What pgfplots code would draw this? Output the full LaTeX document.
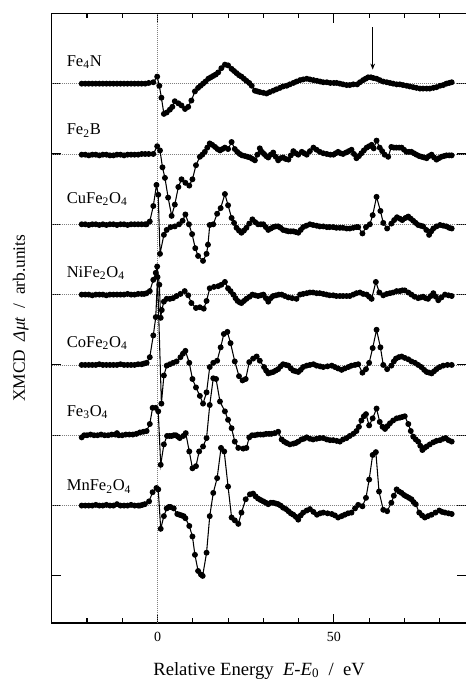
\documentclass[border=0pt]{standalone}
\usepackage{fontspec}
\setmainfont{Liberation Serif}
\usepackage{pgfplots}
\pgfplotsset{compat=1.18}
\usetikzlibrary{arrows.meta}

\pgfplotsset{xm/.style={black, line width=0.8pt, mark=*, mark size=1.8pt, mark options={solid}}}

\begin{document}
\begin{tikzpicture}
\begin{axis}[scale only axis, width=311.1pt, height=457.3pt,
  xmin=-30, xmax=87.6, ymin=-0.67, ymax=8,
  axis line style={line width=1pt},
  tick align=inside, major tick length=7pt, minor tick length=3.5pt,
  xtick={0,50}, minor xtick={-20,-10,10,20,30,40,60,70,80}, xtick pos=both,
  ytick={0,...,7}, yticklabels={}, ytick pos=both,
  tick style={black, line width=0.8pt},
  /pgf/number format/assume math mode=true,
  xticklabel style={font=\fontsize{10.5}{10.5}\selectfont, yshift=-3.5pt},
  xlabel={Relative Energy\ \ \textit{E}-\textit{E}\textsubscript{0}\ \ /\ \ eV},
  xlabel style={at={(axis description cs:0.5,-0.0853)}, anchor=base, font=\fontsize{14}{14}\selectfont},
  ylabel={XMCD\ \ \textit{Δμt}\ \ /\ \ arb.units},
  ylabel style={at={(axis description cs:-0.0745,0.5)}, anchor=center, font=\fontsize{13}{13}\selectfont},
  clip=false]

% top frame line, a little heavier
\draw[black, line width=1.2pt] (rel axis cs:0,1) -- (rel axis cs:1,1);

% baselines and edge position
\draw[densely dotted, gray, line width=0.5pt] (axis cs:-30,1) -- (axis cs:87.6,1)
  (axis cs:-30,2) -- (axis cs:87.6,2) (axis cs:-30,3) -- (axis cs:87.6,3)
  (axis cs:-30,4) -- (axis cs:87.6,4) (axis cs:-30,5) -- (axis cs:87.6,5)
  (axis cs:-30,6) -- (axis cs:87.6,6) (axis cs:-30,7) -- (axis cs:87.6,7);
\draw[densely dotted, gray, line width=0.5pt] (axis cs:0,-0.67) -- (axis cs:0,8);

% Fe4N
\addplot[xm] table[row sep=\\, y expr=\thisrow{y}+7] {x y\\
-21.5 0\\ -20.5 0\\ -19.5 0\\ -18.5 0\\ -17.5 0\\ -16.5 0\\ -15.5 0\\ -14.5 0\\ -13.5 0\\ -12.5 0\\
-11.5 0\\ -10.5 0\\ -9.5 0\\ -8.5 0\\ -7.5 0\\ -6.5 0\\ -5.5 0\\ -4.5 0\\ -3.5 0\\ -2.5 0.01\\
-1.2 0.02\\ -0.1 0.10\\ 0.5 -0.03\\ 1.1 -0.20\\ 1.8 -0.43\\ 2.6 -0.41\\ 3.5 -0.37\\ 4.2 -0.33\\ 4.9 -0.25\\ 5.9 -0.28\\
6.8 -0.31\\ 7.8 -0.36\\ 8.7 -0.33\\ 9.6 -0.24\\ 10.6 -0.11\\ 11.5 -0.06\\ 12.2 -0.03\\ 12.9 0\\ 13.6 0.03\\ 14.4 0.07\\
15.1 0.09\\ 15.8 0.11\\ 16.5 0.13\\ 17.2 0.16\\ 18.1 0.22\\ 19.1 0.27\\ 20.0 0.26\\ 21.0 0.21\\ 21.7 0.18\\ 22.4 0.15\\
23.1 0.12\\ 23.8 0.10\\ 24.5 0.07\\ 25.2 0.04\\ 26.0 0.01\\ 26.7 -0.03\\ 27.6 -0.10\\ 28.3 -0.11\\ 29.0 -0.12\\ 30.0 -0.13\\
30.9 -0.14\\ 31.8 -0.12\\ 32.8 -0.10\\ 33.7 -0.08\\ 34.7 -0.06\\ 35.6 -0.04\\ 36.6 -0.03\\ 37.5 -0.01\\ 38.5 0.01\\ 39.4 0.03\\
40.4 0.05\\ 41.3 0.06\\ 42.3 0.07\\ 43.2 0.06\\ 44.2 0.05\\ 45.2 0.04\\ 46.1 0.03\\ 47.0 0.02\\ 48.0 0.02\\ 49.0 0.01\\
50.0 0.01\\ 50.8 0.01\\ 51.7 0\\ 52.6 -0.01\\ 53.6 -0.02\\ 54.5 -0.02\\ 55.5 -0.01\\ 56.6 -0.01\\ 57.4 0.02\\ 58.3 0.05\\
59.0 0.07\\ 59.7 0.09\\ 60.5 0.09\\ 61.2 0.08\\ 62.1 0.07\\ 63.0 0.05\\ 64.0 0.03\\ 65.0 0.02\\ 65.9 0.01\\ 66.8 0\\
67.8 -0.01\\ 68.7 -0.01\\ 69.6 -0.02\\ 70.6 -0.03\\ 71.5 -0.04\\ 72.5 -0.05\\ 73.4 -0.06\\ 74.4 -0.07\\ 75.3 -0.07\\ 76.3 -0.07\\
77.2 -0.07\\ 78.2 -0.06\\ 79.1 -0.05\\ 80.1 -0.03\\ 81.0 -0.02\\ 81.9 0\\ 82.7 0.01\\ 83.4 0.02\\
};

% Fe2B
\addplot[xm] table[row sep=\\, y expr=\thisrow{y}+6] {x y\\
-21.5 -0.01\\ -20.5 -0.01\\ -19.5 -0.02\\ -18.5 -0.01\\ -17.5 -0.01\\ -16.5 -0.02\\ -15.5 -0.01\\ -14.5 -0.01\\ -13.5 -0.02\\ -12.5 -0.02\\
-11.5 -0.01\\ -10.5 -0.01\\ -9.5 -0.02\\ -8.5 -0.01\\ -7.5 -0.01\\ -6.5 -0.01\\ -5.5 -0.01\\ -4.5 0\\ -3.5 0\\ -2.5 0\\
-1.2 0\\ -0.1 0.11\\ 0.7 0.05\\ 1.4 -0.19\\ 2.1 -0.34\\ 3.0 -0.62\\ 4.0 -0.88\\ 4.9 -0.72\\ 5.9 -0.47\\ 6.8 -0.36\\
7.9 -0.41\\ 9.0 -0.45\\ 9.9 -0.36\\ 10.9 -0.16\\ 12.0 -0.04\\ 12.7 -0.01\\ 13.4 0.03\\ 14.1 0.09\\ 14.8 0.15\\ 15.5 0.13\\
16.3 0.10\\ 17.0 0.07\\ 17.7 0.05\\ 18.4 0.07\\ 19.1 0.09\\ 20.0 0.07\\ 21.0 0.17\\ 21.9 0.07\\ 22.6 0.03\\ 23.3 0\\
24.0 -0.02\\ 24.8 -0.03\\ 25.5 -0.04\\ 26.2 -0.05\\ 26.9 -0.07\\ 27.6 -0.09\\ 28.3 -0.01\\ 29.0 0.08\\ 29.6 0.03\\ 30.2 0\\
30.8 -0.03\\ 31.4 -0.05\\ 32.1 -0.01\\ 32.8 0.02\\ 33.5 -0.04\\ 34.2 -0.09\\ 34.9 -0.06\\ 35.6 -0.05\\ 36.3 -0.07\\ 37.1 -0.08\\
37.8 -0.02\\ 38.5 0.04\\ 39.2 0.01\\ 39.9 -0.01\\ 40.9 0.03\\ 41.6 0.01\\ 42.3 -0.01\\ 43.2 0.04\\ 44.2 0.09\\ 45.1 0.06\\
46.0 0.03\\ 47.0 0.01\\ 48.0 0\\ 49.0 -0.01\\ 49.9 -0.01\\ 50.5 0.01\\ 51.2 0.03\\ 51.9 0.01\\ 52.6 0\\ 53.4 0.02\\
54.2 0.04\\ 55.0 0.06\\ 55.7 0\\ 56.4 -0.06\\ 57.1 -0.03\\ 57.8 0.01\\ 58.5 0.05\\ 59.3 0.09\\ 60.0 0.11\\ 60.7 0.13\\
61.3 0.08\\ 62.1 0.19\\ 63.0 0.09\\ 63.7 0.04\\ 64.4 -0.01\\ 65.4 -0.04\\ 66.3 0.10\\ 67.0 0.09\\ 67.7 0.09\\ 68.5 0.09\\
69.2 0.09\\ 69.9 0.06\\ 70.6 0.03\\ 71.3 0.03\\ 72.0 0.03\\ 72.7 0.01\\ 73.4 -0.01\\ 74.2 -0.03\\ 74.9 -0.04\\ 75.6 -0.05\\
76.3 -0.06\\ 77.0 -0.03\\ 77.7 -0.01\\ 78.4 -0.05\\ 79.1 -0.08\\ 79.8 -0.06\\ 80.5 -0.04\\ 81.2 -0.03\\ 81.9 -0.02\\ 82.7 -0.02\\
83.4 -0.02\\
};

% CuFe2O4
\addplot[xm] table[row sep=\\, y expr=\thisrow{y}+5] {x y\\
-21.5 0\\ -20.5 0\\ -19.5 -0.01\\ -18.5 0\\ -17.5 0\\ -16.5 -0.01\\ -15.5 0\\ -14.5 -0.01\\ -13.5 0\\ -12.5 0\\
-11.5 -0.01\\ -10.5 0\\ -9.5 0\\ -8.5 -0.01\\ -7.5 0\\ -6.5 0\\ -5.5 0\\ -4.5 0\\ -3.5 0\\ -3.1 0\\
-2.2 0.04\\ -1.2 0.26\\ -0.3 0.56\\ 0.2 0.42\\ 0.7 -0.42\\ 1.8 -0.15\\ 2.6 -0.08\\ 3.7 -0.04\\ 4.9 -0.03\\ 6.1 0\\
7.1 0.05\\ 7.9 0.14\\ 8.9 0\\ 9.8 -0.14\\ 10.7 -0.34\\ 11.5 -0.45\\ 12.9 -0.52\\ 13.9 -0.42\\ 14.3 -0.29\\ 14.8 -0.01\\
15.8 0\\ 16.9 0.15\\ 17.9 0.23\\ 19.1 0.43\\ 20.0 0.27\\ 21.0 0.09\\ 21.7 0.02\\ 22.4 -0.05\\ 23.1 -0.09\\ 23.8 -0.12\\
24.5 -0.09\\ 25.2 -0.05\\ 26.0 0.01\\ 26.9 0.07\\ 27.7 0.03\\ 28.5 0\\ 29.3 0\\ 30.0 0\\ 30.7 -0.04\\ 31.4 -0.08\\
32.1 -0.06\\ 32.8 -0.04\\ 33.5 -0.03\\ 34.2 -0.03\\ 34.9 -0.05\\ 35.6 -0.08\\ 36.4 -0.09\\ 37.1 -0.10\\ 37.8 -0.10\\ 38.5 -0.10\\
39.2 -0.11\\ 39.9 -0.12\\ 40.6 -0.08\\ 41.3 -0.04\\ 42.2 -0.02\\ 43.2 0\\ 44.1 -0.01\\ 45.1 -0.02\\ 46.0 -0.03\\ 47.0 -0.03\\
48.0 -0.04\\ 48.8 -0.04\\ 49.8 -0.04\\ 50.7 -0.05\\ 51.7 -0.05\\ 52.6 -0.05\\ 53.6 -0.06\\ 54.5 -0.06\\ 55.5 -0.05\\ 56.4 -0.04\\
56.9 -0.04\\ 58.1 -0.13\\ 59.1 -0.04\\ 60.2 0\\ 61.0 0.13\\ 62.1 0.39\\ 63.2 0.19\\ 64.0 0.02\\ 65.1 -0.06\\ 66.3 0.01\\
67.1 0.06\\ 67.9 0.10\\ 68.7 0.08\\ 69.4 0.06\\ 70.3 0.09\\ 71.1 0.11\\ 71.8 0.08\\ 72.5 0.05\\ 73.2 0.02\\ 73.9 -0.01\\
74.6 -0.02\\ 75.3 -0.03\\ 76.2 -0.08\\ 77.0 -0.15\\ 77.6 -0.10\\ 78.2 -0.06\\ 79.1 -0.03\\ 80.1 -0.01\\ 81.0 -0.02\\ 81.9 -0.03\\
82.7 -0.05\\ 83.4 -0.06\\
};

% NiFe2O4
\addplot[xm] table[row sep=\\, y expr=\thisrow{y}+4] {x y\\
-21.5 0\\ -20.5 0\\ -19.5 0\\ -18.5 -0.01\\ -17.5 0\\ -16.5 0\\ -15.5 0\\ -14.5 -0.01\\ -13.5 0\\ -12.5 0\\
-11.5 0\\ -10.5 0\\ -9.5 0\\ -8.5 0.01\\ -7.5 0\\ -6.5 0\\ -5.5 0.01\\ -4.5 0.01\\ -3.8 0.01\\ -3.1 0.02\\
-2.2 0.05\\ -1.2 0.21\\ -0.5 0.31\\ -0.1 0.40\\ 0.5 0.14\\ 0.9 -0.33\\ 1.2 -0.22\\ 1.8 -0.10\\ 2.6 -0.06\\ 3.5 -0.06\\
4.4 -0.05\\ 5.4 -0.02\\ 6.5 0.01\\ 7.7 0.05\\ 8.7 -0.01\\ 9.6 -0.12\\ 10.9 -0.19\\ 12.0 -0.18\\ 13.1 -0.20\\ 13.9 -0.09\\
14.8 0.09\\ 16.0 0.11\\ 17.2 0.12\\ 18.1 0.14\\ 19.1 0.18\\ 20.0 0.09\\ 20.7 0.05\\ 21.5 0\\ 22.1 -0.05\\ 22.7 -0.09\\
23.3 -0.11\\ 23.8 -0.12\\ 24.5 -0.09\\ 25.2 -0.06\\ 26.1 -0.03\\ 26.9 0\\ 27.7 -0.01\\ 28.5 -0.02\\ 29.3 -0.01\\ 30.0 0\\
30.7 -0.05\\ 31.4 -0.10\\ 32.1 -0.05\\ 32.8 -0.02\\ 33.6 -0.01\\ 34.4 0\\ 35.2 0\\ 36.1 -0.02\\ 37.1 -0.04\\ 38.2 -0.05\\
39.4 -0.06\\ 40.4 0\\ 41.3 0.01\\ 42.3 0.02\\ 43.2 0.03\\ 44.1 0.03\\ 45.1 0.02\\ 46.0 0.02\\ 47.0 0.01\\ 47.9 0\\
48.8 -0.01\\ 49.8 -0.01\\ 50.7 -0.02\\ 51.7 -0.02\\ 52.6 -0.02\\ 53.6 -0.02\\ 54.5 -0.02\\ 55.5 0\\ 56.4 0.02\\ 57.4 0.03\\
58.3 0.01\\ 59.3 0\\ 60.0 -0.03\\ 60.7 -0.06\\ 61.9 0.18\\ 62.9 0.03\\ 64.0 -0.01\\ 65.0 0.01\\ 65.9 0.02\\ 66.8 0.03\\
67.8 0.05\\ 68.7 0.05\\ 69.4 0.06\\ 70.1 0.06\\ 71.1 0.03\\ 72.0 0\\ 72.9 -0.03\\ 73.9 -0.05\\ 74.6 -0.04\\ 75.3 -0.03\\
76.0 -0.05\\ 76.7 -0.06\\ 77.5 -0.02\\ 78.2 0.02\\ 78.9 -0.03\\ 79.6 -0.08\\ 80.5 -0.04\\ 81.5 0\\ 82.5 -0.01\\ 83.4 -0.02\\
};

% CoFe2O4
\addplot[xm] table[row sep=\\, y expr=\thisrow{y}+3] {x y\\
-21.5 0\\ -20.5 0\\ -19.5 0\\ -18.5 0\\ -17.5 0\\ -16.5 0.01\\ -15.5 0\\ -14.5 0\\ -13.5 0\\ -12.5 0\\
-11.5 0\\ -10.5 0.01\\ -9.5 0\\ -8.5 0\\ -7.5 0\\ -6.5 0\\ -5.5 0.01\\ -4.5 0.01\\ -3.8 0.02\\ -3.1 0.03\\
-2.2 0.11\\ -1.2 0.42\\ -0.5 0.68\\ 0.0 1.25\\ 1.1 -0.55\\ 1.8 -0.15\\ 2.6 -0.01\\ 3.5 0.01\\ 4.4 0.03\\ 5.4 0.05\\
6.5 0.11\\ 7.2 0.16\\ 7.9 0.20\\ 9.0 0.03\\ 9.9 -0.20\\ 10.9 -0.32\\ 12.0 -0.44\\ 12.9 -0.55\\ 13.9 -0.39\\ 14.8 -0.03\\
15.8 0.03\\ 16.9 0.06\\ 17.9 0.25\\ 18.8 0.44\\ 19.8 0.47\\ 20.7 0.31\\ 21.9 0.05\\ 23.1 -0.16\\ 24.1 -0.22\\ 25.0 -0.20\\
26.0 0.04\\ 27.1 0.09\\ 28.1 0.12\\ 29.0 0.06\\ 30.2 -0.03\\ 30.8 -0.08\\ 31.4 -0.12\\ 32.1 -0.11\\ 32.8 -0.10\\ 33.5 -0.08\\
34.2 -0.06\\ 34.9 -0.02\\ 35.6 0.01\\ 36.4 0\\ 37.1 -0.01\\ 37.8 -0.05\\ 38.5 -0.08\\ 39.2 -0.09\\ 39.9 -0.10\\ 40.6 -0.07\\
41.3 -0.03\\ 42.3 -0.01\\ 43.2 0\\ 44.2 0.01\\ 45.1 -0.01\\ 46.1 -0.02\\ 47.0 -0.03\\ 48.2 -0.02\\ 49.4 -0.01\\ 50.3 -0.03\\
51.2 -0.05\\ 52.2 -0.07\\ 53.1 -0.05\\ 54.1 -0.03\\ 55.0 -0.01\\ 56.0 0\\ 56.9 0.01\\ 58.1 -0.11\\ 59.1 -0.06\\ 60.0 0.03\\
61.0 0.24\\ 62.1 0.50\\ 63.2 0.25\\ 64.0 0\\ 65.1 -0.06\\ 66.3 -0.01\\ 67.0 0.05\\ 67.6 0.09\\ 68.4 0.11\\ 69.2 0.12\\
70.1 0.10\\ 71.1 0.08\\ 72.0 0.05\\ 73.0 0.03\\ 73.9 0\\ 74.8 -0.03\\ 75.6 -0.07\\ 76.3 -0.10\\ 77.0 -0.11\\ 77.7 -0.12\\
78.4 -0.09\\ 79.1 -0.06\\ 80.0 -0.03\\ 81.0 -0.01\\ 82.2 0\\ 83.4 0\\
};

% Fe3O4
\addplot[xm] table[row sep=\\, y expr=\thisrow{y}+2] {x y\\
-21.5 -0.03\\ -20.8 0\\ -20.0 0\\ -19.0 0.01\\ -18.0 0\\ -17.0 0\\ -16.0 0.01\\ -15.0 0\\ -14.0 0\\ -13.0 0.01\\
-12.0 0.01\\ -11.5 0.03\\ -11.0 0\\ -10.0 0\\ -9.0 0.01\\ -8.0 0.01\\ -7.0 0.01\\ -6.0 0.02\\ -5.0 0.04\\ -4.0 0.05\\
-3.1 0.06\\ -2.2 0.16\\ -1.4 0.39\\ -0.5 0.39\\ 0.2 0.34\\ 0.9 -0.42\\ 1.8 -0.13\\ 2.7 -0.01\\ 3.4 -0.01\\ 4.0 -0.01\\
4.6 0\\ 5.2 0\\ 5.8 -0.02\\ 6.3 -0.04\\ 7.3 -0.01\\ 8.0 0.03\\ 9.0 -0.23\\ 9.9 -0.47\\ 10.9 -0.44\\ 11.8 -0.23\\
12.9 -0.16\\ 13.9 -0.04\\ 14.8 0.43\\ 15.8 0.81\\ 16.6 0.80\\ 17.7 0.48\\ 19.1 0.34\\ 20.0 0.22\\ 21.0 0.10\\ 21.9 -0.09\\
22.9 -0.18\\ 24.3 -0.19\\ 25.2 -0.18\\ 26.0 -0.03\\ 26.8 0\\ 27.6 0\\ 28.4 0.01\\ 29.2 0.01\\ 30.0 0.01\\ 30.8 0.02\\
31.6 0.02\\ 32.3 0.02\\ 33.2 0.03\\ 34.2 0.05\\ 35.2 -0.06\\ 35.9 -0.09\\ 36.6 -0.11\\ 37.5 -0.13\\ 38.5 -0.12\\ 39.2 -0.11\\
39.9 -0.09\\ 40.8 -0.06\\ 41.5 -0.05\\ 42.3 -0.03\\ 43.2 -0.05\\ 44.1 -0.06\\ 45.1 -0.05\\ 46.0 -0.04\\ 47.0 -0.04\\ 48.0 -0.06\\
48.9 -0.07\\ 49.8 -0.07\\ 50.8 -0.08\\ 51.7 -0.09\\ 52.6 -0.06\\ 53.6 -0.04\\ 54.5 -0.01\\ 55.5 0.02\\ 56.4 0.06\\ 57.1 0.12\\
57.8 0.21\\ 58.5 0.27\\ 59.1 0.30\\ 60.0 0.14\\ 61.0 0.24\\ 62.1 0.38\\ 63.0 0.19\\ 63.8 0.12\\ 64.5 0.09\\ 65.2 0.13\\
65.9 0.17\\ 66.8 0.21\\ 67.8 0.24\\ 68.7 0.25\\ 69.4 0.26\\ 70.1 0.27\\ 71.1 0.16\\ 71.8 0.06\\ 72.5 -0.02\\ 73.2 -0.06\\
73.9 -0.09\\ 74.5 -0.15\\ 75.1 -0.21\\ 75.7 -0.18\\ 76.3 -0.16\\ 77.2 -0.13\\ 78.2 -0.10\\ 79.1 -0.08\\ 80.1 -0.07\\ 81.0 -0.05\\
81.7 -0.04\\ 82.5 -0.07\\ 83.4 -0.09\\
};

% MnFe2O4
\addplot[xm] table[row sep=\\, y expr=\thisrow{y}+1] {x y\\
-21.5 0\\ -20.5 0\\ -19.5 0\\ -18.5 0\\ -17.5 0.01\\ -16.5 0\\ -15.5 0\\ -14.5 0.01\\ -13.5 0\\ -12.5 0\\
-11.5 0.02\\ -10.5 0\\ -9.5 0\\ -8.5 0\\ -7.5 0.01\\ -6.5 0\\ -5.5 0\\ -5.0 0\\ -4.3 0.01\\ -3.6 0.02\\
-2.4 0.06\\ -1.4 0.19\\ -0.3 0.25\\ 0.2 0.23\\ 0.9 -0.33\\ 1.8 -0.15\\ 2.6 -0.04\\ 3.2 -0.02\\ 3.7 -0.02\\ 4.6 -0.04\\
5.6 -0.12\\ 6.2 -0.13\\ 6.8 -0.14\\ 7.4 -0.15\\ 7.9 -0.18\\ 9.0 -0.29\\ 9.9 -0.44\\ 10.6 -0.70\\ 11.5 -0.93\\ 12.3 -0.98\\
12.8 -1.00\\ 13.9 -0.67\\ 14.8 -0.15\\ 15.8 0.18\\ 16.9 0.39\\ 18.0 0.82\\ 18.9 0.77\\ 20.0 0.27\\ 21.0 -0.17\\ 21.9 -0.21\\
22.9 -0.26\\ 23.8 -0.10\\ 25.0 0.09\\ 26.2 0.16\\ 27.1 0.17\\ 27.8 0.13\\ 28.5 0.10\\ 29.2 0.08\\ 30.0 0.06\\ 30.7 0.04\\
31.4 0.02\\ 32.1 0.04\\ 32.8 0.04\\ 33.5 0.03\\ 34.2 0.02\\ 34.9 0\\ 35.6 -0.03\\ 36.4 -0.05\\ 37.1 -0.08\\ 37.8 -0.11\\
38.5 -0.13\\ 39.2 -0.16\\ 39.9 -0.20\\ 40.6 -0.14\\ 41.3 -0.10\\ 42.3 -0.07\\ 43.2 -0.05\\ 44.2 -0.09\\ 45.2 -0.13\\ 46.1 -0.11\\
47.0 -0.10\\ 48.2 -0.11\\ 49.4 -0.12\\ 50.3 -0.14\\ 51.2 -0.17\\ 52.2 -0.15\\ 53.1 -0.13\\ 54.0 -0.11\\ 55.0 -0.10\\ 56.0 -0.04\\
56.9 0.01\\ 58.1 -0.01\\ 59.1 0.11\\ 60.0 0.37\\ 61.0 0.72\\ 61.9 0.76\\ 62.8 0.20\\ 64.0 -0.06\\ 65.1 -0.08\\ 66.3 0.04\\
67.0 0.14\\ 67.8 0.23\\ 68.5 0.20\\ 69.2 0.18\\ 69.9 0.15\\ 70.6 0.13\\ 71.3 0.11\\ 72.0 0.09\\ 72.6 0.05\\ 73.2 0.02\\
74.2 -0.10\\ 75.0 -0.14\\ 75.8 -0.17\\ 76.7 -0.15\\ 77.7 -0.13\\ 78.8 -0.10\\ 79.9 -0.07\\ 80.7 -0.09\\ 81.5 -0.10\\ 82.5 -0.11\\
83.4 -0.12\\
};

% sample names
\begin{scope}[every node/.style={anchor=west, inner sep=0pt, font=\fontsize{12.4}{12.4}\selectfont}]
\node at (axis cs:-25.8,7.31) {Fe\textsubscript{4}N};
\node at (axis cs:-25.8,6.33) {Fe\textsubscript{2}B};
\node at (axis cs:-25.8,5.36) {CuFe\textsubscript{2}O\textsubscript{4}};
\node at (axis cs:-25.8,4.31) {NiFe\textsubscript{2}O\textsubscript{4}};
\node at (axis cs:-25.8,3.31) {CoFe\textsubscript{2}O\textsubscript{4}};
\node at (axis cs:-25.8,2.33) {Fe\textsubscript{3}O\textsubscript{4}};
\node at (axis cs:-25.8,1.27) {MnFe\textsubscript{2}O\textsubscript{4}};
\end{scope}

\draw[-{Stealth[length=4.5pt,width=3.5pt]}, line width=0.6pt] (axis cs:61,7.8) -- (axis cs:61,7.2);
\end{axis}
\pgfresetboundingbox
\path[use as bounding box] ([xshift=-38.8pt,yshift=-42pt]current axis.south west) rectangle ([xshift=-0.55pt,yshift=10pt]current axis.north east);
\end{tikzpicture}
\end{document}
